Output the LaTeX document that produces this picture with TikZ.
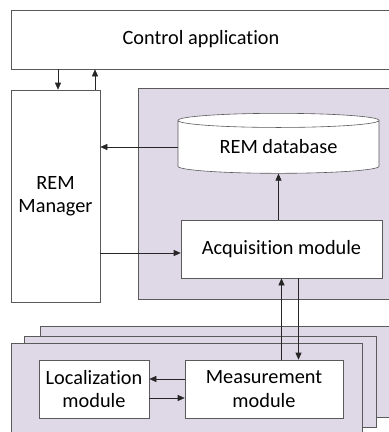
\documentclass[tikz,border=0pt]{standalone}
\usepackage{fontspec}
\setmainfont{Carlito}[Ligatures={NoCommon}]
\usetikzlibrary{positioning, calc, arrows.meta, shapes}

\definecolor{remlilac}{HTML}{DFD9E7}
\definecolor{remline}{HTML}{5A5A5A}

\begin{document}
\begin{tikzpicture}[
    x=1pt, y=-1pt,
    font=\fontsize{20.3}{23.5}\selectfont,
    block/.style={rectangle, draw=remline, fill=white, semithick, inner sep=0pt, align=center},
    panel/.style={rectangle, draw=remline, fill=remlilac, semithick, inner sep=0pt},
    arrow/.style={-{Triangle[length=7pt, width=6pt]}, black!85, semithick}
]

    \clip (0,0) rectangle (389,432);

    % Lilac backgrounds
    \node[panel, minimum width=262pt, minimum height=211pt] (core) at (269,193.5) {};
    \node[panel, minimum width=360pt, minimum height=91pt] (node3) at (220,371.5) {};
    \node[panel, minimum width=352pt, minimum height=91pt] (node2) at (200,381.5) {};
    \node[panel, minimum width=351pt, minimum height=102pt] (node1) at (186.5,394) {};

    % Top level blocks
    \node[block, minimum width=380pt, minimum height=59pt] (ctrl) at (201,39.5) {Control application};
    \node[block, minimum width=89pt, minimum height=212pt] (mgr) at (55.5,196) {REM\\Manager};

    % Database and acquisition
    \node[cylinder, shape border rotate=90, aspect=0.12, draw=remline, fill=white, semithick,
          minimum width=201pt, minimum height=60pt, inner sep=0pt] (db) at (278.5,147) {REM database};
    \node[block, minimum width=201pt, minimum height=58pt] (acq) at (281.5,249) {Acquisition module};

    % Sensing node
    \node[block, minimum width=110pt, minimum height=58pt] (loc) at (94,389) {Localization\\module};
    \node[block, minimum width=158pt, minimum height=58pt] (meas) at (264,389) {Measurement\\module};

    % Connections
    \draw[arrow] (ctrl.south -| 58,0) -- (mgr.north -| 58,0);
    \draw[arrow] (mgr.north -| 95,0) -- (ctrl.south -| 95,0);
    \draw[arrow] (db.west) -- (db.west -| mgr.east);
    \draw[arrow] (acq.north -| db.south) -- (db.south);
    \draw[arrow] ([yshift=-4pt]acq.west -| mgr.east) -- ([yshift=-4pt]acq.west);
    \draw[arrow] (acq.south |- meas.north) -- (acq.south);
    \draw[arrow] ([xshift=17pt]acq.south) -- ([xshift=17pt]acq.south |- meas.north);
    \draw[arrow] ([yshift=10pt]meas.west) -- ([yshift=10pt]meas.west -| loc.east);
    \draw[arrow] ([yshift=-9pt]loc.east) -- ([yshift=-9pt]loc.east -| meas.west);

\end{tikzpicture}
\end{document}
